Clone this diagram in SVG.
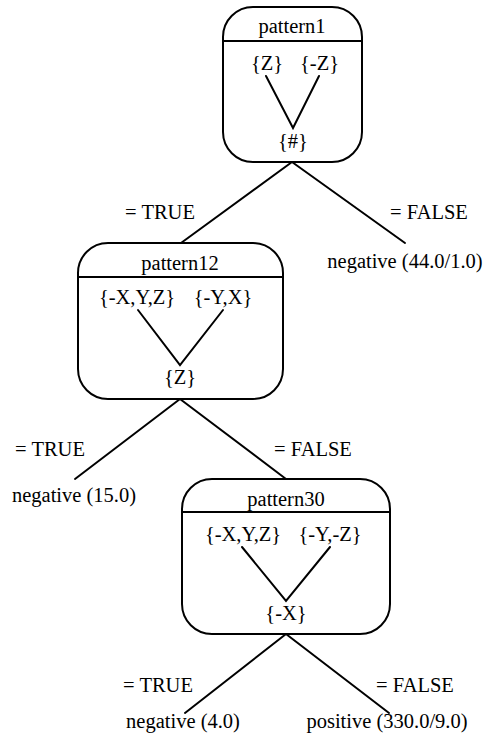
<svg xmlns="http://www.w3.org/2000/svg" width="486" height="745" viewBox="0 0 486 745">
  <style>
    .box { fill: none; stroke: #000; stroke-width: 2; }
    .ln { stroke: #000; stroke-width: 2; fill: none; stroke-linecap: round; }
  </style>

  <rect width="486" height="745" fill="#fff"/>

  <!-- all labels share one serif face, centred on their x -->
  <g font-family="'Liberation Serif', 'Times New Roman', serif" font-size="20.5" fill="#000" text-anchor="middle">

    <!-- tree edges with their branch labels -->
    <g id="connectors">
      <line class="ln" x1="292" y1="162" x2="181" y2="243"/>
      <line class="ln" x1="292" y1="162" x2="405" y2="243"/>
      <line class="ln" x1="180" y1="399" x2="75" y2="479"/>
      <line class="ln" x1="180" y1="399" x2="286" y2="479"/>
      <line class="ln" x1="286" y1="634" x2="185" y2="713"/>
      <line class="ln" x1="286" y1="634" x2="389" y2="713"/>
      <text x="160" y="219">= TRUE</text>
      <text x="429" y="219">= FALSE</text>
      <text x="50" y="456">= TRUE</text>
      <text x="313" y="456">= FALSE</text>
      <text x="158" y="692">= TRUE</text>
      <text x="415" y="692">= FALSE</text>
    </g>

    <g id="pattern1">
      <rect class="box" x="223" y="7" width="139" height="155" rx="30" ry="30"/>
      <line class="ln" x1="223" y1="41" x2="362" y2="41"/>
      <text x="292" y="33">pattern1</text>
      <text x="267" y="70">{Z}</text>
      <text x="319.5" y="70">{-Z}</text>
      <polyline class="ln" points="266,76 293,128 319,76"/>
      <text x="293" y="148">{#}</text>
    </g>

    <g id="leaf-neg-44">
      <text x="405" y="268">negative (44.0/1.0)</text>
    </g>

    <g id="pattern12">
      <rect class="box" x="78" y="243" width="205" height="156" rx="30" ry="30"/>
      <line class="ln" x1="78" y1="277" x2="283" y2="277"/>
      <text x="180" y="270">pattern12</text>
      <text x="137" y="304">{-X,Y,Z}</text>
      <text x="223" y="304">{-Y,X}</text>
      <polyline class="ln" points="138,310 180,365 223,310"/>
      <text x="180" y="384">{Z}</text>
    </g>

    <g id="leaf-neg-15">
      <text x="74" y="502">negative (15.0)</text>
    </g>

    <g id="pattern30">
      <rect class="box" x="182" y="479" width="208" height="155" rx="30" ry="30"/>
      <line class="ln" x1="182" y1="512" x2="390" y2="512"/>
      <text x="286" y="506">pattern30</text>
      <text x="243" y="541">{-X,Y,Z}</text>
      <text x="330" y="541">{-Y,-Z}</text>
      <polyline class="ln" points="242,547 286,601 330,547"/>
      <text x="286" y="620">{-X}</text>
    </g>

    <g id="leaf-neg-4">
      <text x="183" y="728">negative (4.0)</text>
    </g>

    <g id="leaf-pos-330">
      <text x="387" y="728">positive (330.0/9.0)</text>
    </g>
  </g>
</svg>
